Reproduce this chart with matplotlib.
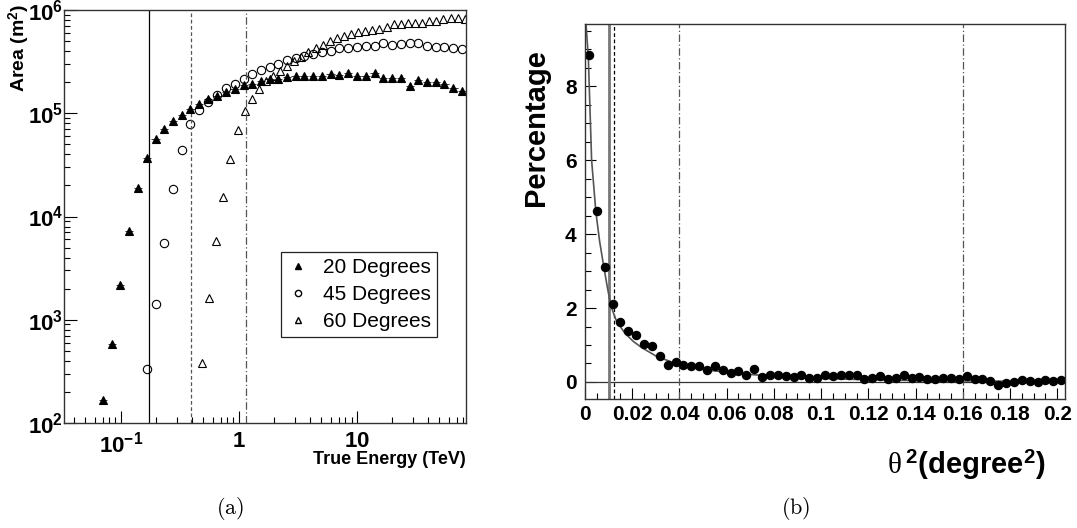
import matplotlib
matplotlib.use("Agg")
import matplotlib.pyplot as plt
import numpy as np
from matplotlib.lines import Line2D
from matplotlib.ticker import (FixedLocator, FixedFormatter, LogLocator,
                               NullFormatter, MultipleLocator, FuncFormatter)

plt.rcParams['font.family'] = ['Liberation Sans', 'DejaVu Sans']
plt.rcParams['mathtext.fontset'] = 'custom'
plt.rcParams['mathtext.rm'] = 'Liberation Sans:bold'
plt.rcParams['mathtext.bf'] = 'Liberation Sans:bold'
plt.rcParams['mathtext.it'] = 'Liberation Serif'

# --- (a) effective area vs true energy ---
energy_20 = [0.071, 0.084, 0.099, 0.117, 0.139, 0.166, 0.197, 0.233, 0.275, 0.329,
             0.389, 0.46, 0.55, 0.65, 0.78, 0.92, 1.10, 1.30, 1.54, 1.82,
             2.15, 2.55, 3.02, 3.57, 4.27, 5.05, 5.98, 7.08, 8.45, 10.0,
             11.85, 14.1, 16.7, 19.8, 23.5, 28.0, 33.1, 39.3, 46.5, 55.2,
             65.8, 78.0]
area_20 = [167, 580, 2150, 7300, 18800, 37000, 56000, 71000, 84000, 96000,
           111000, 124000, 137000, 147000, 160000, 171000, 186000, 193000, 206000, 214000,
           217000, 222000, 232000, 232000, 232000, 228000, 241000, 237000, 247000, 230000,
           227000, 244000, 220000, 219000, 220000, 184000, 212000, 199000, 200000, 193000,
           176000, 164000]

energy_45 = [0.166, 0.197, 0.233, 0.275, 0.329, 0.389, 0.46, 0.55, 0.65, 0.78,
             0.92, 1.10, 1.30, 1.54, 1.82, 2.15, 2.55, 3.02, 3.57, 4.27,
             5.05, 5.98, 7.08, 8.45, 10.0, 11.85, 14.1, 16.7, 19.8, 23.5,
             28.0, 33.1, 39.3, 46.5, 55.2, 65.8, 78.0]
area_45 = [330, 1420, 5500, 18300, 44500, 79500, 108000, 129000, 151000, 174000,
           190000, 217000, 241000, 261000, 280000, 301000, 327000, 340000, 360000, 371000,
           391000, 403000, 425000, 425000, 441000, 447000, 444000, 474000, 457000, 471000,
           474000, 478000, 444000, 438000, 441000, 428000, 418000]

energy_60 = [0.489, 0.557, 0.643, 0.736, 0.843, 0.975, 1.12, 1.29, 1.48, 1.70,
             1.93, 2.22, 2.55, 2.94, 3.37, 3.87, 4.46, 5.12, 5.87, 6.77,
             7.76, 8.9, 10.2, 11.7, 13.5, 15.5, 17.9, 20.5, 23.5, 27.0,
             31.0, 35.5, 41.0, 47.0, 54.0, 62.2, 71.3, 81.8]
area_60 = [385, 1620, 5760, 15600, 36300, 68800, 105000, 137000, 170000, 205000,
           227000, 259000, 290000, 322000, 352000, 388000, 425000, 460000, 500000, 538000,
           560000, 589000, 616000, 630000, 645000, 655000, 685000, 737000, 727000, 743000,
           746000, 754000, 788000, 780000, 813000, 836000, 841000, 813000]

cut_lines_a = [0.174, 0.39, 1.14]

# --- (b) theta^2 distribution ---
bin_width = 0.2 / 60
pct = [8.83, 4.63, 3.12, 2.12, 1.61, 1.38, 1.28, 1.02, 0.97, 0.70,
       0.46, 0.54, 0.47, 0.44, 0.44, 0.33, 0.43, 0.33, 0.24, 0.29,
       0.18, 0.35, 0.14, 0.18, 0.20, 0.15, 0.14, 0.18, 0.11, 0.11,
       0.20, 0.16, 0.18, 0.20, 0.18, 0.08, 0.12, 0.16, 0.09, 0.10,
       0.19, 0.11, 0.13, 0.09, 0.08, 0.12, 0.12, 0.08, 0.16, 0.09,
       0.08, 0.02, -0.07, -0.04, 0.01, 0.06, 0.02, 0.01, 0.06, 0.04,
       0.05]
theta2 = (np.arange(len(pct)) + 0.5) * bin_width

fit_x = [0.0004, 0.0014, 0.0028, 0.0046, 0.0062, 0.008, 0.0095, 0.011, 0.0133,
         0.0169, 0.0204, 0.024, 0.0304, 0.038, 0.045, 0.052, 0.0665, 0.081,
         0.098, 0.12, 0.14, 0.16, 0.18, 0.2033]
fit_y = [9.7, 8.8, 6.0, 4.6, 3.8, 3.1, 2.55, 2.05, 1.65,
         1.32, 1.10, 0.93, 0.69, 0.51, 0.40, 0.32, 0.22, 0.15,
         0.10, 0.06, 0.04, 0.03, 0.02, 0.015]

fig = plt.figure(figsize=(10.77, 5.28), dpi=100)
W, H = 1077, 528

# ----------- panel (a) -----------
ax1 = fig.add_axes([64 / W, 1 - 423 / H, 402 / W, 413 / H])
ax1.set_xscale('log')
ax1.set_yscale('log')
ax1.set_xlim(0.033, 84)
ax1.set_ylim(100, 1e6)

f = 10 ** 0.035  # demi-largeur de bin (log)
e20 = np.array(energy_20)
ax1.errorbar(e20, area_20, xerr=[e20 - e20 / f, e20 * f - e20], fmt='^', mfc='k', mec='k',
             ms=5.5, mew=0.8, ecolor='#333', elinewidth=0.7, capsize=0)
ax1.plot(energy_45, area_45, 'o', mfc='none', mec='k', ms=6, mew=0.8)
ax1.plot(energy_60, area_60, '^', mfc='none', mec='k', ms=6, mew=0.8)

ax1.axvline(cut_lines_a[0], color='k', lw=0.9)
ax1.axvline(cut_lines_a[1], color='#555', lw=0.9, ls=(0, (3, 2)))
ax1.axvline(cut_lines_a[2], color='#555', lw=0.9, ls=(0, (6, 2, 1, 2)))

ax1.xaxis.set_major_locator(FixedLocator([0.1, 1, 10]))
ax1.xaxis.set_major_formatter(FixedFormatter([r'$\mathbf{10^{-1}}$', r'$\mathbf{1}$', r'$\mathbf{10}$']))
ax1.xaxis.set_minor_locator(LogLocator(base=10, subs=np.arange(2, 10), numticks=20))
ax1.xaxis.set_minor_formatter(NullFormatter())
ax1.yaxis.set_major_locator(FixedLocator([1e2, 1e3, 1e4, 1e5, 1e6]))
ax1.yaxis.set_major_formatter(FixedFormatter([r'$\mathbf{10^{%d}}$' % k for k in range(2, 7)]))
ax1.yaxis.set_minor_locator(LogLocator(base=10, subs=np.arange(2, 10), numticks=20))
ax1.yaxis.set_minor_formatter(NullFormatter())
ax1.tick_params(which='both', direction='in', top=False, right=False, labelsize=16)
ax1.tick_params(which='major', length=9, width=0.8)
ax1.tick_params(which='minor', length=4.5, width=0.8)
ax1.tick_params(axis='x', pad=6)
ax1.tick_params(axis='y', pad=0.5)

handles = [Line2D([], [], ls='none', marker='^', mfc='k', mec='k', ms=4.5),
           Line2D([], [], ls='none', marker='o', mfc='none', mec='k', ms=4.5),
           Line2D([], [], ls='none', marker='^', mfc='none', mec='k', ms=4.5)]
leg = ax1.legend(handles, ['20 Degrees', '45 Degrees', '60 Degrees'],
                 loc='upper left', bbox_to_anchor=(0.54, 0.414), borderaxespad=0,
                 fancybox=False, edgecolor='#222', framealpha=1, fontsize=15,
                 handlelength=1.0, handletextpad=0.7, borderpad=0.3, labelspacing=0.38)
leg.get_frame().set_linewidth(0.9)

fig.text(19 / W, 1 - 4 / H, 'Area (m$^{2}$)', rotation=90, ha='center', va='top',
         fontsize=14, fontweight='bold')
fig.text(466 / W, 1 - 460 / H, 'True Energy (TeV)', ha='right', va='center',
         fontsize=13, fontweight='bold')

# ----------- panel (b) -----------
ax2 = fig.add_axes([585 / W, 1 - 399 / H, 480 / W, 375 / H])
ax2.set_xlim(0, 0.2033)
ax2.set_ylim(-0.46, 9.68)

ax2.axhline(0, color='#333', lw=0.9)
ax2.axvline(0.0100, color='#777', lw=2.0)
ax2.axvline(0.0121, color='k', lw=0.9, ls=(0, (3, 2)))
ax2.axvline(0.04, color='#555', lw=0.9, ls=(0, (6, 2, 1, 2)))
ax2.axvline(0.16, color='#555', lw=0.9, ls=(0, (6, 2, 1, 2)))
ax2.plot(fit_x, fit_y, color='#555', lw=1.2)
ax2.plot(theta2, pct, 'o', color='k', ms=5.8)

ax2.xaxis.set_major_locator(MultipleLocator(0.02))
ax2.xaxis.set_minor_locator(MultipleLocator(0.005))
ax2.xaxis.set_major_formatter(FuncFormatter(lambda v, p: '%g' % round(v, 3)))
ax2.yaxis.set_major_locator(MultipleLocator(2))
ax2.yaxis.set_minor_locator(MultipleLocator(0.5))
ax2.yaxis.set_major_formatter(FuncFormatter(lambda v, p: '%g' % round(v, 3)))
ax2.tick_params(which='both', direction='in', top=False, right=False, labelsize=15)
ax2.tick_params(which='major', length=8, width=0.8)
ax2.tick_params(which='minor', length=4, width=0.8)
ax2.tick_params(axis='x', pad=4)
ax2.tick_params(axis='y', pad=6)
for lab in ax2.get_xticklabels() + ax2.get_yticklabels():
    lab.set_fontweight('bold')

for ax in (ax1, ax2):
    for s in ax.spines.values():
        s.set_linewidth(1.0)
        s.set_color('#333')

fig.text(536 / W, 1 - 128 / H, 'Percentage', rotation=90, ha='center', va='center',
         fontsize=21, fontweight='bold')
fig.text(1045 / W, 1 - 465 / H, r'$\theta^{\,2}$(degree$^{2}$)', ha='right', va='center',
         fontsize=21, fontweight='bold')

fig.text(230 / W, 1 - 508 / H, r'$\mathrm{(a)}$', ha='center', va='center', fontsize=16,
         math_fontfamily='cm')
fig.text(796 / W, 1 - 508 / H, r'$\mathrm{(b)}$', ha='center', va='center', fontsize=16,
         math_fontfamily='cm')

fig.savefig('out.png', dpi=100)
